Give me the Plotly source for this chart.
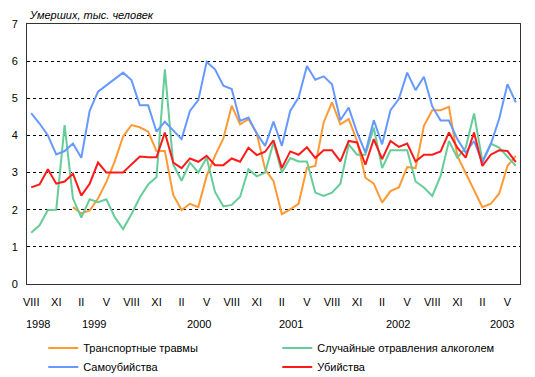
import plotly.graph_objects as go

months = list(range(59))  # Aug 1998 .. Jun 2003
tick_vals = list(range(0, 59, 3))
tick_text = ["VIII", "XI", "II", "V"] * 5
year_labels = ["1998", "1999", "2000", "2001", "2002", "2003"]
year_pos = [0.87, 7.57, 20.1, 31.15, 43.9, 56.3]

transport = [None, None, None, None, None,
             2.07, 1.9, 1.98, 2.3, 2.75, 3.3, 3.97,
             4.28, 4.22, 4.1, 3.58, 3.58, 2.4, 1.99, 2.16, 2.07, 2.91, 3.45, 3.92,
             4.8, 4.3, 4.44, 4.05, 3.09, 2.77, 1.88, 2.01, 2.16, 3.13, 3.18, 4.35,
             4.89, 4.3, 4.44, 3.85, 2.86, 2.7, 2.19, 2.5, 2.6, 3.15, 3.12, 4.26,
             4.68, 4.68, 4.77, 3.45, 3.0, 2.55, 2.07, 2.16, 2.43, 3.18, 3.45]
alcohol = [1.38, 1.58, 1.99, 2.0, 4.28, 2.3, 1.79, 2.28, 2.2, 2.28, 1.8, 1.48,
           1.88, 2.33, 2.68, 2.88, 5.78, 3.22, 2.78, 3.27, 3.0, 3.4, 2.48, 2.09,
           2.13, 2.35, 3.09, 2.9, 3.0, 3.81, 3.0, 3.39, 3.3, 3.3, 2.46, 2.37,
           2.46, 2.7, 3.76, 3.48, 3.48, 4.21, 3.12, 3.6, 3.6, 3.6, 2.76, 2.6,
           2.37, 2.91, 3.85, 3.4, 3.67, 4.59, 3.31, 3.78, 3.67, 3.42, 3.18]
suicide = [4.6, 4.32, 4.0, 3.49, 3.58, 3.78, 3.4, 4.66, 5.18, 5.35, 5.51, 5.69,
           5.49, 4.81, 4.81, 4.1, 4.37, 4.12, 3.9, 4.66, 4.95, 5.98, 5.78, 5.34,
           5.25, 4.39, 4.48, 4.05, 3.72, 4.37, 3.72, 4.66, 5.02, 5.87, 5.5, 5.59,
           5.38, 4.41, 4.75, 4.08, 3.54, 4.41, 3.76, 4.68, 4.98, 5.69, 5.22, 5.58,
           4.78, 4.4, 4.4, 3.9, 3.54, 3.85, 3.27, 3.76, 4.44, 5.38, 4.89]
murder = [2.6, 2.68, 3.09, 2.7, 2.76, 2.97, 2.38, 2.7, 3.27, 3.0, 3.0, 3.0,
          3.22, 3.43, 3.41, 3.41, 4.08, 3.27, 3.12, 3.38, 3.29, 3.45, 3.2, 3.2,
          3.38, 3.29, 3.67, 3.47, 3.56, 3.87, 3.12, 3.57, 3.48, 3.68, 3.39, 3.6,
          3.6, 3.3, 3.85, 3.81, 3.21, 3.9, 3.36, 3.85, 3.69, 3.78, 3.3, 3.48,
          3.48, 3.57, 4.08, 3.67, 3.4, 4.08, 3.18, 3.48, 3.6, 3.58, 3.28]

series = [
    ("Транспортные травмы", transport, "#FF9933"),
    ("Случайные отравления алкоголем", alcohol, "#66CC99"),
    ("Самоубийства", suicide, "#6699FF"),
    ("Убийства", murder, "#FF1A1A"),
]

FONT = "Liberation Sans, Arial, sans-serif"

fig = go.Figure()
for name, vals, color in series:
    fig.add_trace(go.Scatter(x=months, y=vals, mode="lines", name=name,
                             line=dict(color=color, width=2), connectgaps=False,
                             hoverinfo="skip"))

for label, pos in zip(year_labels, year_pos):
    fig.add_annotation(x=pos, xref="x", y=-0.1546, yref="paper", text=label,
                       showarrow=False, xanchor="center", yanchor="middle",
                       font=dict(family=FONT, size=11, color="black"))

fig.add_annotation(x=0, xref="paper", y=1.004, yref="paper",
                   text="<i>Умерших, тыс. человек</i>", showarrow=False,
                   xanchor="left", yanchor="bottom",
                   font=dict(family=FONT, size=11, color="black"))

fig.update_layout(
    width=535, height=377,
    margin=dict(l=27, r=15, t=24, b=93, autoexpand=False),
    paper_bgcolor="white", plot_bgcolor="white",
    font=dict(family=FONT, size=11, color="black"),
    showlegend=True,
    legend=dict(orientation="h", x=0.033, xanchor="left", y=-0.19, yanchor="top",
                entrywidth=189, entrywidthmode="pixels", itemwidth=30,
                font=dict(family=FONT, size=11, color="black"),
                bgcolor="rgba(0,0,0,0)", tracegroupgap=0),
    xaxis=dict(range=[-0.5, 58.5], tickmode="array", tickvals=tick_vals,
               ticktext=tick_text, showgrid=False, zeroline=False,
               showline=True, linecolor="#333333", linewidth=1, mirror=True,
               ticks="outside", ticklen=8, tickcolor="rgba(0,0,0,0)",
               tickfont=dict(family=FONT, size=11, color="black")),
    yaxis=dict(range=[0, 7], dtick=1, showgrid=True, gridcolor="black",
               gridwidth=1, griddash="3px,3px", zeroline=False,
               showline=True, linecolor="#333333", linewidth=1, mirror=True,
               ticks="outside", ticklen=6, tickcolor="rgba(0,0,0,0)",
               tickfont=dict(family=FONT, size=11, color="black")),
)

fig.write_html("out.html", config={"displayModeBar": False},
               post_script="document.body.style.margin='0';document.body.style.overflow='hidden';")
